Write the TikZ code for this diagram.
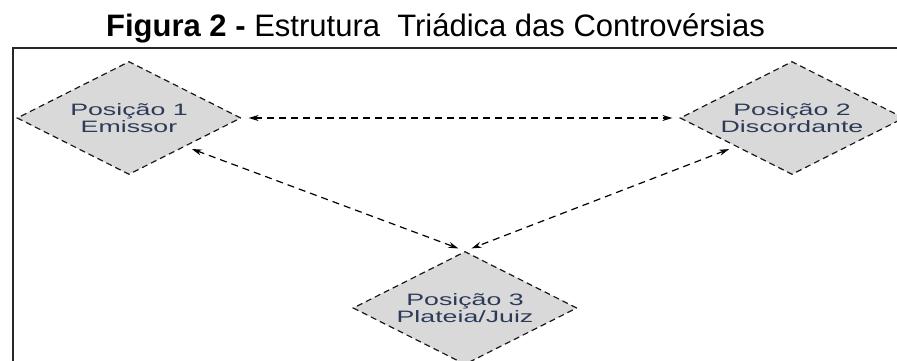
\documentclass[tikz,border=0pt]{standalone}
\usepackage{fontspec}
\setmainfont{Liberation Sans}
\newfontfamily\boxfont[FakeStretch=1.62]{Liberation Sans}
\usetikzlibrary{shapes.geometric,arrows.meta}
\definecolor{boxgray}{RGB}{217,217,217}
\definecolor{boxtext}{RGB}{45,58,88}

\begin{document}
\begin{tikzpicture}[x=1pt, y=-1pt,
    position/.style={
        diamond,
        aspect=2,
        draw=black!90, line width=1.2pt,
        dash pattern=on 6pt off 4pt,
        fill=boxgray,
        inner sep=0pt,
        minimum width=224pt,
        minimum height=113pt,
        align=center,
        text=boxtext,
        font=\boxfont\fontsize{16.5}{17}\selectfont},
    arrow/.style={
        line width=1.2pt,
        dash pattern=on 7pt off 5pt,
        {Stealth[length=10pt,width=6pt]}-{Stealth[length=10pt,width=6pt]},
        shorten <=7pt,
        shorten >=7pt}
    ]
    \useasboundingbox (0,0) rectangle (897,361);

    \node (title) [anchor=base, font=\fontsize{31}{36}\selectfont] at (435.5,37)
        {\textbf{Figura 2 -} Estrutura\ \ Triádica das Controvérsias};
    \draw [line width=1.8pt, black!85] (13,361) |- (897,48);

    \node (pos1) [position] at (129,118) {Posição 1\\Emissor};
    \node (pos2) [position] at (792,118) {Posição 2\\Discordante};
    \node (pos3) [position] at (465,308) {Posição 3\\Plateia/Juiz};

    \draw [arrow] (pos1.east) -- (pos2.west);
    \draw [arrow] (pos1.south east) -- (pos3.north);
    \draw [arrow] (pos2.south west) -- (pos3.north);

\end{tikzpicture}
\end{document}
